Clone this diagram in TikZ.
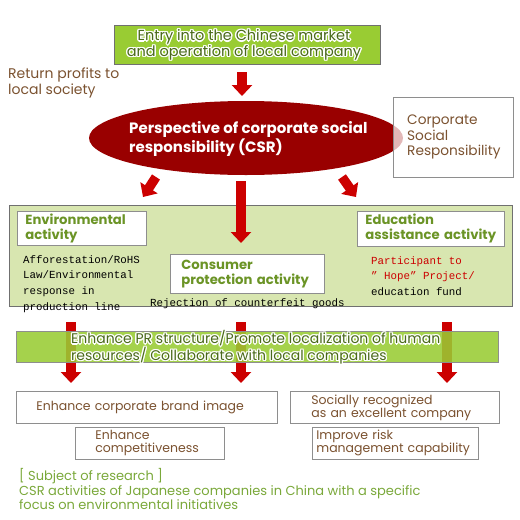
\documentclass[tikz,border=0pt]{standalone}
\usepackage{fontspec}
\setmainfont{Poppins}
\setmonofont{Liberation Mono}
\usetikzlibrary{arrows.meta,shapes.geometric}
\definecolor{csrred}{HTML}{990000}
\definecolor{arrred}{HTML}{CC0000}
\definecolor{ygreen}{HTML}{99CC33}
\definecolor{lgreen}{HTML}{D8E6B0}
\definecolor{brownt}{HTML}{7B5230}
\definecolor{olive}{HTML}{6B9426}
\definecolor{dgreen}{HTML}{4A6A1A}
\definecolor{foot}{HTML}{7AA83A}
\definecolor{bgrey}{HTML}{8E8E8E}
\definecolor{dgrey}{HTML}{707070}
\newcommand{\glowtext}[4]{%
  \foreach \gx/\gy in {-1.4/0,1.4/0,0/-1.4,0/1.4,-1/-1,1/1,-1/1,1/-1}{%
    \node[glowtxt,#4,white,xshift=\gx pt,yshift=\gy pt,#2] at #1 {#3};}%
  \node[glowtxt,#4,dgreen,#2] at #1 {#3};}
\begin{document}
\begin{tikzpicture}[x=1pt,y=-1pt,
  glowtxt/.style={inner sep=0pt,align=left},
  box/.style={draw=bgrey,fill=white,line width=0.8pt,anchor=north west,inner ysep=0pt,align=left},
  boxtxt/.style={font=\fontsize{12.5}{13}\selectfont,text=brownt},
  headtxt/.style={font=\bfseries\fontsize{13.2}{15}\selectfont,text=olive},
  monotxt/.style={font=\ttfamily\fontsize{10.8}{15.7}\selectfont,inner sep=0pt,anchor=west,align=left},
  bigarrow/.style={draw=arrred,line width=9.5pt,-{Triangle[width=20pt,length=11pt]}},
]
\useasboundingbox (0,0) rectangle (520,520);
% top box
\node[draw=dgrey,fill=ygreen,line width=1pt,anchor=north west,minimum width=266pt,minimum height=39pt,inner sep=0pt] (entry) at (114,25) {};
\glowtext{(244,45)}{name=entrytxt,align=center}{Entry into the Chinese market\\and operation of local company}{font=\fontsize{14.5}{14.5}\selectfont}
% return profits
\node[inner sep=0pt,anchor=west,align=left,text=brownt,font=\fontsize{14}{14}\selectfont] (ret) at (8,83) {Return profits to\\local society};
% arrow top
\coordinate (a0s) at (242,72);
\coordinate (a0e) at (242,96);
\draw[bigarrow] (a0s) -- (a0e);
% ellipse
\node[ellipse,fill=csrred,minimum width=314pt,minimum height=74pt,inner sep=0pt] (csr) at (246,138) {};
\node[inner sep=0pt,anchor=west,align=left,text=white,font=\bfseries\fontsize{15}{17}\selectfont] (csrtxt) at (129,139) {Perspective of corporate social\\responsibility (CSR)};
% CSR box
\node[draw=bgrey,fill=white,fill opacity=0.72,line width=0.8pt,anchor=north west,minimum width=120pt,minimum height=80pt,inner sep=0pt] (csrbox) at (393,97) {};
\node[inner sep=0pt,anchor=west,align=left,text=brownt,font=\fontsize{13.7}{15.5}\selectfont] (csrbt) at (407,137) {Corporate\\Social\\Responsibility};
% arrows from ellipse
\coordinate (a1s) at (156,177);
\coordinate (a1e) at (143,197);
\coordinate (a3s) at (342,177);
\coordinate (a3e) at (356,197);
\draw[bigarrow] (a1s) -- (a1e);
\draw[bigarrow] (a3s) -- (a3e);
% panel
\node[draw=dgrey,fill=lgreen,line width=1pt,anchor=north west,minimum width=503pt,minimum height=101pt,inner sep=0pt] (panel) at (9,205) {};
\coordinate (a2s) at (241,181);
\coordinate (a2e) at (241,243);
\draw[bigarrow] (a2s) -- (a2e);
% activity boxes
\node[box,minimum width=129pt,minimum height=34pt,inner xsep=8pt,text width=113pt,headtxt] (env) at (17,211) {Environmental\\activity};
\node[box,minimum width=154pt,minimum height=39pt,inner xsep=11pt,text width=132pt,headtxt] (cons) at (170,254) {Consumer\\protection activity};
\node[box,minimum width=147pt,minimum height=35pt,inner xsep=8pt,text width=131pt,headtxt] (edu) at (357,211) {Education\\assistance activity};
\node[monotxt] (envtxt) at (23,284) {Afforestation/RoHS\\Law/Environmental\\response in\\production line};
\node[monotxt] (constxt) at (150,304) {Rejection of counterfeit goods};
\node[monotxt] (edutxt) at (371,276) {\textcolor{red!80!black}{Participant to}\\\textcolor{red!80!black}{” Hope”  Project/}\\education fund};
% bottom arrows
\coordinate (b1s) at (71,322);
\coordinate (b1e) at (71,383);
\coordinate (b2s) at (241,322);
\coordinate (b2e) at (241,383);
\coordinate (b3s) at (447,322);
\coordinate (b3e) at (447,383);
\draw[bigarrow] (b1s) -- (b1e);
\draw[bigarrow] (b2s) -- (b2e);
\draw[bigarrow] (b3s) -- (b3e);
% band
\node[draw=bgrey,fill=ygreen,fill opacity=0.88,line width=1pt,anchor=north west,minimum width=482pt,minimum height=31pt,inner sep=0pt] (band) at (16,331) {};
\glowtext{(71,347.5)}{name=bandtxt,anchor=west}{Enhance PR structure/Promote localization of human\\resources/ Collaborate with local companies}{font=\fontsize{14}{13.2}\selectfont}
% result boxes
\node[box,minimum width=261pt,minimum height=32pt,inner xsep=20pt,text width=221pt,boxtxt] (brand) at (16,391) {Enhance corporate brand image};
\node[box,minimum width=209pt,minimum height=32pt,inner xsep=21pt,text width=167pt,boxtxt] (social) at (290,391) {Socially recognized\\as an excellent company};
\node[box,minimum width=149pt,minimum height=32pt,inner xsep=20pt,text width=109pt,boxtxt] (compet) at (75,427) {Enhance\\competitiveness};
\node[box,minimum width=166pt,minimum height=32pt,inner xsep=4pt,text width=158pt,boxtxt] (risk) at (312,427) {Improve risk\\management capability};
% footer
\node[inner sep=0pt,anchor=west,align=left,text=foot,font=\fontsize{13}{14.5}\selectfont] (foot) at (19,489) {[ Subject of research ]\\CSR activities of Japanese companies in China with a specific\\focus on environmental initiatives};
\end{tikzpicture}
\end{document}
